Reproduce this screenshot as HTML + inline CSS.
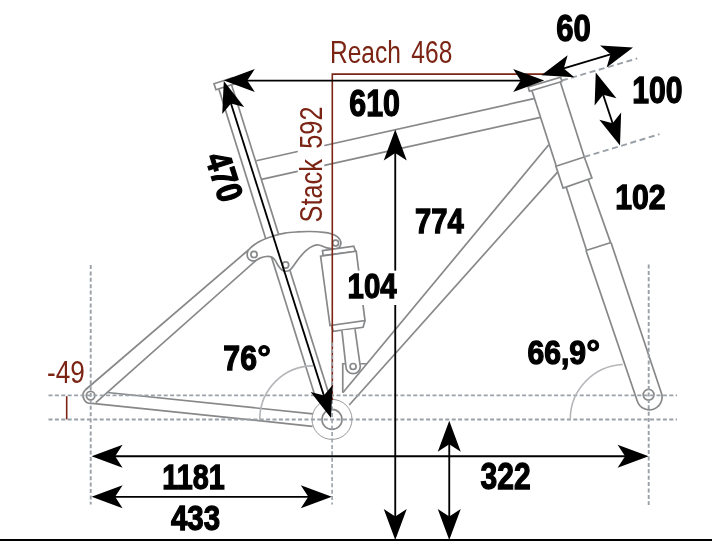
<!DOCTYPE html>
<html><head><meta charset="utf-8"><title>Geometry</title>
<style>html,body{margin:0;padding:0;background:#fff}svg{display:block}</style></head>
<body><svg width="712" height="543" viewBox="0 0 712 543" style="will-change:transform">
<rect width="712" height="543" fill="#fff"/>
<path d="M214,83.75 L232.5,77.8 L234.4,83.9 L215.95,89.8 Z" stroke="#87888a" stroke-width="1.7" fill="none" />
<line x1="218.91" y1="89.30" x2="315.03" y2="396.00" stroke="#87888a" stroke-width="1.7" />
<line x1="231.39" y1="84.30" x2="328.22" y2="392.00" stroke="#87888a" stroke-width="1.7" />
<line x1="256.25" y1="160.75" x2="533.90" y2="98.70" stroke="#87888a" stroke-width="1.7" />
<line x1="261.50" y1="179.40" x2="540.50" y2="117.41" stroke="#87888a" stroke-width="1.7" />
<path d="M528.1,86.9 L560.6,77.3 L561.9,81.5 L529.4,91.2 Z" stroke="#87888a" stroke-width="1.7" fill="none" />
<line x1="531.90" y1="90.40" x2="556.30" y2="166.25" stroke="#87888a" stroke-width="1.7" />
<line x1="560.30" y1="82.00" x2="584.30" y2="157.00" stroke="#87888a" stroke-width="1.7" />
<path d="M555.9,166.25 L584.3,157 L591.9,178.1 L563.1,188.1 Z" stroke="#87888a" stroke-width="1.7" fill="none" />
<line x1="566.25" y1="187.20" x2="586.60" y2="250.60" stroke="#87888a" stroke-width="1.7" />
<line x1="588.10" y1="179.30" x2="610.60" y2="242.60" stroke="#87888a" stroke-width="1.7" />
<line x1="586.00" y1="250.50" x2="611.00" y2="242.50" stroke="#87888a" stroke-width="1.7" />
<path d="M586,250.5 L637.44,401.47 A12.7,12.7 0 0 0 661.53,393.44 L611,242.5" stroke="#87888a" stroke-width="1.7" fill="none" />
<circle cx="648.60" cy="394.80" r="5.40" stroke="#87888a" stroke-width="1.7" fill="none"/>
<line x1="343.00" y1="392.50" x2="548.75" y2="144.75" stroke="#87888a" stroke-width="1.7" />
<line x1="349.25" y1="405.00" x2="557.75" y2="171.90" stroke="#87888a" stroke-width="1.7" />
<line x1="107.50" y1="392.50" x2="313.00" y2="413.90" stroke="#87888a" stroke-width="1.7" />
<line x1="92.00" y1="403.40" x2="312.50" y2="426.30" stroke="#87888a" stroke-width="1.7" />
<line x1="85.20" y1="390.00" x2="249.00" y2="249.50" stroke="#87888a" stroke-width="1.7" />
<line x1="95.80" y1="402.70" x2="255.60" y2="260.80" stroke="#87888a" stroke-width="1.7" />
<path d="M85.2,390.0 A8,8 0 0 0 92.0,403.4" stroke="#87888a" stroke-width="1.7" fill="none" />
<circle cx="90.60" cy="395.60" r="4.30" stroke="#87888a" stroke-width="1.7" fill="none"/>
<circle cx="332.00" cy="419.40" r="20.00" stroke="#97999c" stroke-width="1.0" fill="#fff"/>
<circle cx="332.00" cy="419.40" r="10.00" stroke="#87888a" stroke-width="1.6" fill="none"/>
<path d="M247.60,251.80 C248.08,250.23 248.43,249.56 250.50,247.80 C252.57,246.04 256.33,243.18 260.00,241.25 C263.67,239.32 268.33,237.61 272.50,236.25 C276.67,234.89 280.83,233.82 285.00,233.10 C289.17,232.38 293.33,232.17 297.50,231.90 C301.67,231.63 305.60,231.42 310.00,231.50 C314.40,231.58 320.40,232.02 323.90,232.40 C327.40,232.78 328.73,233.05 331.00,233.80 C333.27,234.55 335.87,235.53 337.50,236.90 C339.13,238.27 340.45,240.32 340.80,242.00 C341.15,243.68 340.40,245.85 339.60,247.00 C338.80,248.15 337.43,248.63 336.00,248.90 C334.57,249.17 332.67,248.82 331.00,248.60 C329.33,248.38 328.04,248.20 326.00,247.60 C323.96,247.00 321.00,245.22 318.75,245.00 C316.50,244.78 314.58,245.35 312.50,246.25 C310.42,247.15 308.33,248.61 306.25,250.40 C304.17,252.19 301.88,254.78 300.00,257.00 C298.12,259.23 296.57,261.68 295.00,263.75 C293.43,265.82 292.06,268.15 290.60,269.40 C289.14,270.65 287.70,271.15 286.25,271.25 C284.80,271.35 283.26,270.94 281.90,270.00 C280.54,269.06 279.25,267.27 278.10,265.60 C276.95,263.93 276.14,261.45 275.00,260.00 C273.86,258.55 272.71,257.48 271.25,256.90 C269.79,256.32 268.12,256.30 266.25,256.50 C264.38,256.70 261.88,257.38 260.00,258.10 C258.12,258.82 256.58,260.45 255.00,260.80 C253.42,261.15 251.73,260.80 250.50,260.20 C249.27,259.60 248.08,258.60 247.60,257.20 C247.12,255.80 247.12,253.37 247.60,251.80 Z" stroke="#87888a" stroke-width="1.7" fill="#fff" />
<circle cx="254.00" cy="254.40" r="3.10" stroke="#87888a" stroke-width="1.7" fill="none"/>
<circle cx="285.60" cy="265.00" r="3.10" stroke="#87888a" stroke-width="1.7" fill="none"/>
<circle cx="335.60" cy="243.10" r="3.00" stroke="#87888a" stroke-width="1.7" fill="none"/>
<path d="M322.5,250.6 L353.75,246.25 L355.6,251.25 L323.1,255.6 Z" stroke="#87888a" stroke-width="1.7" fill="#fff" />
<path d="M356.25,251.25 L320.6,256.25 L330,325.6 L365,320.6 Z" stroke="#87888a" stroke-width="1.7" fill="#fff" />
<path d="M331.9,326.25 L333.1,331.25 L363.1,327.25 L365,320.6" stroke="#87888a" stroke-width="1.7" fill="none" />
<path d="M341.9,330.4 L345.9,366.5 A7.2,7.2 0 0 0 360.3,366.5 L355,329.2" stroke="#87888a" stroke-width="1.7" fill="#fff" />
<circle cx="353.10" cy="366.50" r="3.00" stroke="#87888a" stroke-width="1.7" fill="none"/>
<path d="M342.75,392.8 L342.75,363.75 L345.6,363.75 M360.4,363.75 L366.9,363.75" stroke="#87888a" stroke-width="1.7" fill="none" />
<line x1="48.50" y1="395.40" x2="677.00" y2="395.40" stroke="#9aa0a7" stroke-width="1.9" stroke-dasharray="4 2.4" />
<line x1="48.50" y1="419.50" x2="677.00" y2="419.50" stroke="#9aa0a7" stroke-width="1.9" stroke-dasharray="4 2.4" />
<line x1="90.70" y1="265.00" x2="90.70" y2="504.50" stroke="#9aa0a7" stroke-width="1.9" stroke-dasharray="4 2.4" />
<line x1="648.70" y1="264.50" x2="648.70" y2="505.00" stroke="#9aa0a7" stroke-width="1.9" stroke-dasharray="4 2.4" />
<line x1="561.90" y1="80.50" x2="637.20" y2="58.50" stroke="#9aa0a7" stroke-width="1.9" stroke-dasharray="6 3.6" />
<line x1="584.40" y1="156.90" x2="659.50" y2="134.20" stroke="#9aa0a7" stroke-width="1.9" stroke-dasharray="6 3.6" />
<path d="M259.75,419.4 A53.5,53.5 0 0 1 313,365.9" stroke="#b4b6b9" stroke-width="1.6" fill="none" />
<path d="M570.25,419.5 A55,55 0 0 1 622.75,364.5" stroke="#b4b6b9" stroke-width="1.6" fill="none" />
<path d="M332.3,400 L332.3,74.1 L545,74.1" stroke="#7b2414" stroke-width="1.6" fill="none" />
<line x1="66.70" y1="396.20" x2="66.70" y2="419.40" stroke="#7b2414" stroke-width="1.6" />
<line x1="332.10" y1="342.50" x2="332.10" y2="504.50" stroke="#9aa0a7" stroke-width="1.6" stroke-dasharray="4 2.4" />
<rect x="0" y="539" width="712" height="2" fill="#000"/>
<line x1="243.80" y1="80.60" x2="524.20" y2="80.60" stroke="#000" stroke-width="1.85" />
<polygon points="223.80,80.60 254.80,69.10 247.30,80.60 254.80,92.10" fill="#000"/>
<polygon points="544.20,80.60 513.20,92.10 520.70,80.60 513.20,69.10" fill="#000"/>
<line x1="229.86" y1="100.06" x2="324.94" y2="398.94" stroke="#000" stroke-width="1.85" />
<polygon points="223.80,81.00 244.16,107.06 230.92,103.39 222.24,114.03" fill="#000"/>
<polygon points="331.00,418.00 310.64,391.94 323.88,395.61 332.56,384.97" fill="#000"/>
<line x1="395.25" y1="149.50" x2="395.25" y2="520.00" stroke="#000" stroke-width="1.85" />
<polygon points="395.25,129.50 406.75,160.50 395.25,153.00 383.75,160.50" fill="#000"/>
<polygon points="395.25,540.00 383.75,509.00 395.25,516.50 406.75,509.00" fill="#000"/>
<line x1="449.25" y1="440.70" x2="449.25" y2="520.00" stroke="#000" stroke-width="1.85" />
<polygon points="449.25,420.70 460.75,451.70 449.25,444.20 437.75,451.70" fill="#000"/>
<polygon points="449.25,540.00 437.75,509.00 449.25,516.50 460.75,509.00" fill="#000"/>
<line x1="111.60" y1="456.20" x2="628.60" y2="456.20" stroke="#000" stroke-width="1.85" />
<polygon points="91.60,456.20 122.60,444.70 115.10,456.20 122.60,467.70" fill="#000"/>
<polygon points="648.60,456.20 617.60,467.70 625.10,456.20 617.60,444.70" fill="#000"/>
<line x1="111.60" y1="496.80" x2="311.80" y2="496.80" stroke="#000" stroke-width="1.85" />
<polygon points="91.60,496.80 122.60,485.30 115.10,496.80 122.60,508.30" fill="#000"/>
<polygon points="331.80,496.80 300.80,508.30 308.30,496.80 300.80,485.30" fill="#000"/>
<line x1="560.45" y1="69.42" x2="613.85" y2="53.28" stroke="#000" stroke-width="1.85" />
<polygon points="541.30,75.20 567.65,55.23 563.80,68.40 574.30,77.24" fill="#000"/>
<polygon points="633.00,47.50 606.65,67.47 610.50,54.30 600.00,45.46" fill="#000"/>
<line x1="602.06" y1="91.48" x2="613.69" y2="126.52" stroke="#000" stroke-width="1.85" />
<polygon points="595.75,72.50 616.44,98.29 603.16,94.80 594.61,105.54" fill="#000"/>
<polygon points="620.00,145.50 599.31,119.71 612.59,123.20 621.14,112.46" fill="#000"/>
<rect x="346" y="270.6" width="52" height="34.4" fill="#fff"/>
<text transform="translate(47.05,383.43) scale(0.8272,1)" font-family="'Liberation Sans', sans-serif" font-weight="400" font-size="31.69" fill="#7b2414">-49</text>
<text transform="translate(349.33,116.19) scale(0.8410,1)" font-family="'Liberation Sans', sans-serif" font-weight="700" font-size="36.13" fill="#000" stroke="#000" stroke-width="1.3" stroke-linejoin="miter">610</text>
<text transform="translate(414.96,233.35) scale(0.8131,1)" font-family="'Liberation Sans', sans-serif" font-weight="700" font-size="35.94" fill="#000" stroke="#000" stroke-width="1.3" stroke-linejoin="miter">774</text>
<text transform="translate(347.52,297.79) scale(0.8273,1)" font-family="'Liberation Sans', sans-serif" font-weight="700" font-size="35.56" fill="#000" stroke="#000" stroke-width="1.3" stroke-linejoin="miter">104</text>
<text transform="translate(615.24,209.19) scale(0.8440,1)" font-family="'Liberation Sans', sans-serif" font-weight="700" font-size="35.77" fill="#000" stroke="#000" stroke-width="1.3" stroke-linejoin="miter">102</text>
<text transform="translate(632.23,103.38) scale(0.8232,1)" font-family="'Liberation Sans', sans-serif" font-weight="700" font-size="36.62" fill="#000" stroke="#000" stroke-width="1.3" stroke-linejoin="miter">100</text>
<text transform="translate(556.20,41.23) scale(0.8421,1)" font-family="'Liberation Sans', sans-serif" font-weight="700" font-size="36.90" fill="#000" stroke="#000" stroke-width="1.3" stroke-linejoin="miter">60</text>
<text transform="translate(162.30,489.49) scale(0.8028,1)" font-family="'Liberation Sans', sans-serif" font-weight="700" font-size="35.85" fill="#000" stroke="#000" stroke-width="1.3" stroke-linejoin="miter">1181</text>
<text transform="translate(170.95,530.24) scale(0.8268,1)" font-family="'Liberation Sans', sans-serif" font-weight="700" font-size="35.70" fill="#000" stroke="#000" stroke-width="1.3" stroke-linejoin="miter">433</text>
<text transform="translate(480.53,489.48) scale(0.8167,1)" font-family="'Liberation Sans', sans-serif" font-weight="700" font-size="36.76" fill="#000" stroke="#000" stroke-width="1.3" stroke-linejoin="miter">322</text>
<text transform="translate(223.35,370.30) scale(0.8585,1)" font-family="'Liberation Sans', sans-serif" font-weight="700" font-size="35.21" fill="#000" stroke="#000" stroke-width="1.3" stroke-linejoin="miter">76</text>
<text transform="translate(257.14,368.98) scale(1.0225,1)" font-family="'Liberation Sans', sans-serif" font-weight="700" font-size="33.55" fill="#000" stroke="#000" stroke-width="1.0" stroke-linejoin="miter">°</text>
<text transform="translate(527.47,363.69) scale(0.8923,1)" font-family="'Liberation Sans', sans-serif" font-weight="700" font-size="33.76" fill="#000" stroke="#000" stroke-width="1.3" stroke-linejoin="miter">66,9</text>
<text transform="translate(586.35,364.51) scale(0.9917,1)" font-family="'Liberation Sans', sans-serif" font-weight="700" font-size="35.16" fill="#000" stroke="#000" stroke-width="1.0" stroke-linejoin="miter">°</text>
<text transform="translate(329.94,63.40) scale(0.8025,1)" font-family="'Liberation Sans', sans-serif" font-weight="400" font-size="30.59" word-spacing="4.57" fill="#7b2414">Reach 468</text>
<rect x="297.8" y="104" width="26.5" height="121" fill="#fff"/>
<text transform="rotate(-90) translate(-222.47,322.10) scale(0.8066,1)" font-family="'Liberation Sans', sans-serif" font-weight="400" font-size="31.42" word-spacing="4.08" fill="#7b2414">Stack 592</text>
<g transform="translate(204.30,157.50) rotate(72.38)">
<text transform="translate(-0.06,-0.71) scale(0.8203,1)" font-family="'Liberation Sans', sans-serif" font-weight="700" font-size="35.92" fill="#000" stroke="#000" stroke-width="1.3" stroke-linejoin="miter">470</text>
</g>
</svg></body></html>
